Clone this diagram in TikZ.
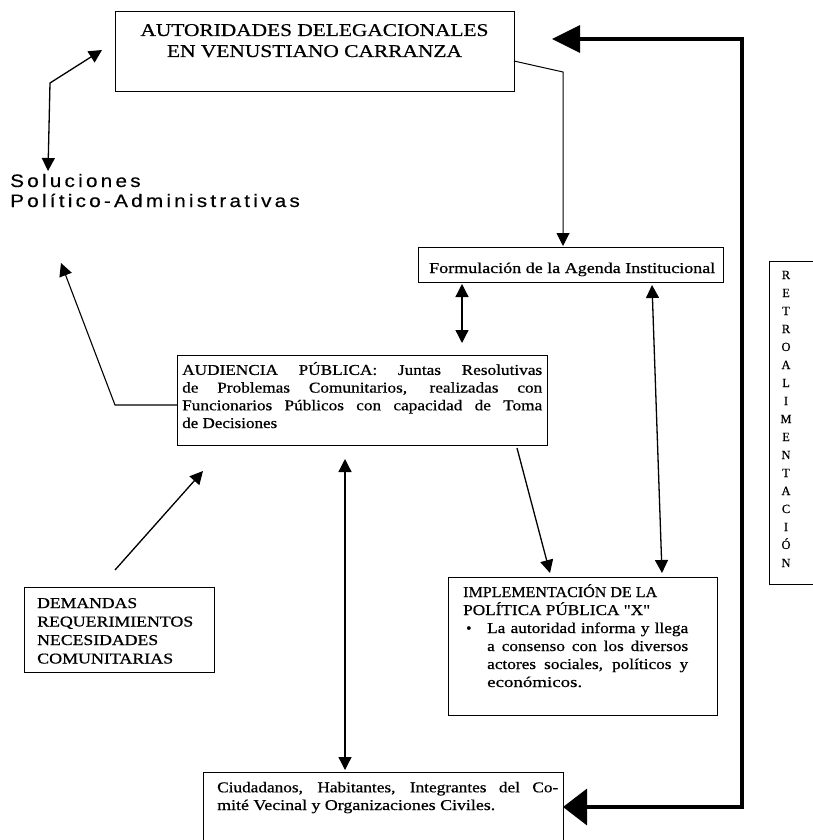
\documentclass[tikz,border=0pt]{standalone}
\usepackage{fontspec}
\usepackage{graphicx}
\setmainfont{Liberation Serif}[Ligatures=TeXOff, FakeBold=0.6]
\newfontfamily\solfont{Liberation Sans}[FakeStretch=1.15, LetterSpace=18, FakeBold=0.4]
\usetikzlibrary{arrows.meta}
% justified line, set narrow and widened by 15 percent
\newcommand\jl[2]{\resizebox{#1}{\height}{\makebox[\dimexpr#1*100/115\relax][s]{#2}}}
% scale a line horizontally to a given width
\newcommand\fitw[2]{\resizebox{#1}{\height}{#2}}
\begin{document}
\begin{tikzpicture}[x=1pt,y=-1pt,
  box/.style={draw, line width=1.4pt, rectangle, inner sep=0pt, anchor=north west},
  txt/.style={inner sep=0pt, align=left, font=\fontsize{15}{17.7}\selectfont},
  conn/.style={line width=1.3pt},
  >={Triangle[length=13pt,width=13pt]},
  fb/.style={line width=3.5pt, line join=miter},
  ]
\useasboundingbox (0,0) rectangle (813,840);
\fill[white] (0,0) rectangle (813,840);
\clip (0,0) rectangle (813,840);

% boxes
\node[box, minimum width=399pt, minimum height=80pt] (aut) at (115,11) {};
\node[box, minimum width=305pt, minimum height=35pt] (form) at (418,247) {};
\node[box, minimum width=370pt, minimum height=90pt] (aud) at (177,355) {};
\node[box, minimum width=269pt, minimum height=138pt] (impl) at (448,577) {};
\node[box, minimum width=190pt, minimum height=85pt] (dem) at (24,587) {};
\node[box, minimum width=360pt, minimum height=90pt] (ciud) at (203,772) {};
\node[box, minimum width=60pt, minimum height=323pt] (retro) at (769,261) {};

% texts (the base anchor of a multi-line node is its last baseline)
\node[txt, align=center, anchor=base, font=\fontsize{18}{21}\selectfont] (autT) at (314.5,57)
  {\fitw{348pt}{AUTORIDADES DELEGACIONALES}\\\fitw{295pt}{EN VENUSTIANO CARRANZA}};
\node[txt, anchor=base west, font=\solfont\fontsize{18}{20}\selectfont] (sol) at (10,207)
  {Soluciones\\Político-Administrativas};
\node[txt, anchor=base west] (formT) at (429,273)
  {\fitw{286pt}{Formulación de la Agenda Institucional}};
\node[txt, anchor=base west] (audT) at (182,428)
  {\jl{360pt}{AUDIENCIA PÚBLICA: Juntas Resolutivas}\\
   \jl{360pt}{de Problemas Comunitarios, realizadas con}\\
   \jl{360pt}{Funcionarios Públicos con capacidad de Toma}\\
   \fitw{95pt}{de Decisiones}};
\node[txt, anchor=base west, font=\fontsize{15}{18}\selectfont] (implT) at (463,687)
  {\fitw{194pt}{IMPLEMENTACIÓN DE LA}\\
   \fitw{187pt}{POLÍTICA PÚBLICA "X"}\\
   \makebox[24pt][l]{\hspace*{3pt}•}\jl{201pt}{La autoridad informa y llega}\\
   \hspace*{24pt}\jl{201pt}{a consenso con los diversos}\\
   \hspace*{24pt}\jl{201pt}{actores sociales, políticos y}\\
   \hspace*{24pt}\fitw{95pt}{económicos.}};
\node[txt, anchor=base west, font=\fontsize{15}{18.5}\selectfont] (demT) at (37,663.5)
  {\fitw{100pt}{DEMANDAS}\\
   \fitw{156pt}{REQUERIMIENTOS}\\
   \fitw{121pt}{NECESIDADES}\\
   \fitw{136pt}{COMUNITARIAS}};
\node[txt, anchor=base west] (ciudT) at (217,810)
  {\jl{341pt}{Ciudadanos, Habitantes, Integrantes del Co-}\\
   \fitw{278pt}{mité Vecinal y Organizaciones Civiles.}};
\node[txt, align=center, anchor=base, font=\fontsize{12.5}{18}\selectfont] (retroT) at (786,567)
  {R\\E\\T\\R\\O\\A\\L\\I\\M\\E\\N\\T\\A\\C\\I\\Ó\\N};

% connector end points
\coordinate (solTop) at (48,171);
\coordinate (solBend) at (50,83);
\coordinate (autIn) at (102,50);
\coordinate (autOut) at (514,61);
\coordinate (formBend) at (563,72);
\coordinate (formIn) at (563,246);
\coordinate (faTop) at (462,284);
\coordinate (faBot) at (462,343);
\coordinate (fiTop) at (652,285);
\coordinate (fiBot) at (662,573);
\coordinate (aiTop) at (517,448);
\coordinate (aiBot) at (550,573);
\coordinate (acTop) at (345,459);
\coordinate (acBot) at (345,770);
\coordinate (audOut) at (177,405);
\coordinate (audBend) at (115,405);
\coordinate (solIn) at (61,263);
\coordinate (demOut) at (115,570);
\coordinate (audIn) at (203,471);
\coordinate (fbLow) at (742,807);
\coordinate (fbHigh) at (742,39);
\coordinate (ciudIn) at (563,807);
\coordinate (autFb) at (552,39);

% connectors
\draw[conn, <->] (solTop) -- (solBend) -- (autIn);
\draw[line width=1pt, ->] (autOut) -- (formBend) -- (formIn);
\draw[conn, <->] (faTop) -- (faBot);
\draw[conn, <->] (fiTop) -- (fiBot);
\draw[conn, ->] (aiTop) -- (aiBot);
\draw[conn, <->] (acTop) -- (acBot);
\draw[line width=1.1pt, ->] (audOut) -- (audBend) -- (solIn);
\draw[conn, ->] (demOut) -- (audIn);
\draw[fb, {Triangle[length=24pt,width=36pt]}-{Triangle[length=28pt,width=27pt]}]
  (ciudIn) -- (fbLow) -- (fbHigh) -- (autFb);
\end{tikzpicture}
\end{document}
